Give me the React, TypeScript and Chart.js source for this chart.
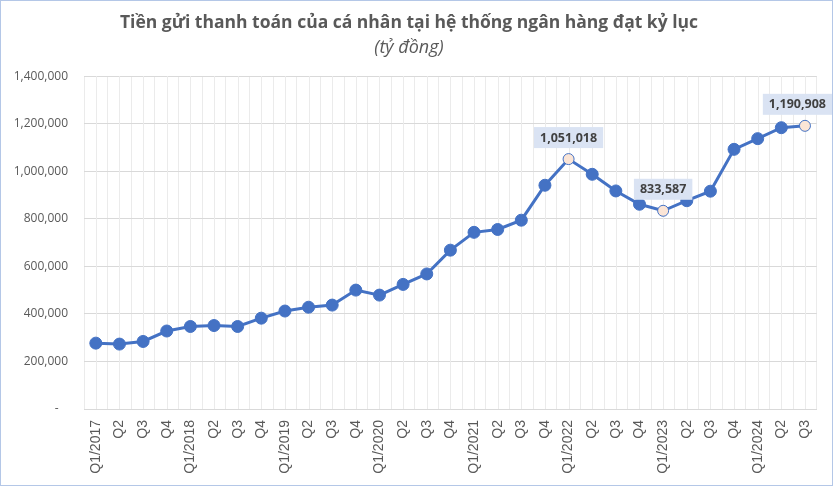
import React, { useEffect, useRef } from "react";
import { Chart, registerables } from "chart.js";

Chart.register(...registerables);

const titleText = "Tiền gửi thanh toán của cá nhân tại hệ thống ngân hàng đạt kỷ lục";
const subtitleText = "(tỷ đồng)";

const categories = [
  "Q1/2017", "Q2", "Q3", "Q4",
  "Q1/2018", "Q2", "Q3", "Q4",
  "Q1/2019", "Q2", "Q3", "Q4",
  "Q1/2020", "Q2", "Q3", "Q4",
  "Q1/2021", "Q2", "Q3", "Q4",
  "Q1/2022", "Q2", "Q3", "Q4",
  "Q1/2023", "Q2", "Q3", "Q4",
  "Q1/2024", "Q2", "Q3",
];

const deposits = [
  277000, 273000, 284000, 328000,
  347000, 351000, 347000, 382000,
  412000, 428000, 437000, 500000,
  479000, 524000, 568000, 668000,
  743000, 755000, 794000, 941000,
  1051018, 987000, 917000, 861000,
  833587, 876000, 916000, 1092000,
  1137000, 1183000, 1190908,
];

const highlightIndices = [20, 24, 30];

const yMin = 0;
const yMax = 1400000;
const yStep = 200000;

const LINE = "#4472c4";
const HILITE_FILL = "#fbe5d6";
const LABEL_BG = "#dae3f3";
const TEXT = "#595959";

export default function App() {
  const ref = useRef<HTMLCanvasElement | null>(null);

  useEffect(() => {
    document.body.style.margin = "0";
    const canvas = ref.current;
    if (!canvas) return;

    const centerGrid = {
      id: "centerGrid",
      beforeDatasetsDraw(chart: any) {
        const { ctx, chartArea, scales } = chart;
        const x = scales.x;
        ctx.save();
        ctx.strokeStyle = "#ebebeb";
        ctx.lineWidth = 1;
        for (let i = 0; i < categories.length; i++) {
          const px = Math.round(x.getPixelForTick(i)) + 0.5;
          ctx.beginPath();
          ctx.moveTo(px, chartArea.top);
          ctx.lineTo(px, chartArea.bottom);
          ctx.stroke();
        }
        ctx.restore();
      },
    };

    const valueLabels = {
      id: "valueLabels",
      afterDatasetsDraw(chart: any) {
        const { ctx } = chart;
        const meta = chart.getDatasetMeta(0);
        ctx.save();
        ctx.font = 'bold 12.5px "Open Sans"';
        ctx.textAlign = "center";
        ctx.textBaseline = "middle";
        highlightIndices.forEach((i) => {
          const pt = meta.data[i];
          const text = deposits[i].toLocaleString("en-US");
          const tw = ctx.measureText(text).width;
          const w = tw + 12;
          const h = 21;
          let left = pt.x - w / 2;
          if (left + w > chart.width - 1) left = chart.width - 1 - w;
          const top = pt.y - 11 - h;
          ctx.fillStyle = LABEL_BG;
          ctx.fillRect(left, top, w, h);
          ctx.fillStyle = "#404040";
          ctx.fillText(text, left + w / 2, top + h / 2 + 0.5);
        });
        ctx.restore();
      },
    };

    const frame = {
      id: "frame",
      afterDraw(chart: any) {
        const { ctx } = chart;
        ctx.save();
        ctx.strokeStyle = "#b4c7e7";
        ctx.lineWidth = 1;
        ctx.strokeRect(0.5, 0.5, chart.width - 1, chart.height - 1);
        ctx.restore();
      },
    };

    const chart = new Chart(canvas, {
      type: "line",
      data: {
        labels: categories,
        datasets: [
          {
            data: deposits,
            borderColor: LINE,
            borderWidth: 3,
            backgroundColor: LINE,
            pointRadius: deposits.map((_, i) => (highlightIndices.includes(i) ? 5.5 : 6)),
            pointBackgroundColor: deposits.map((_, i) =>
              highlightIndices.includes(i) ? HILITE_FILL : LINE
            ),
            pointBorderColor: LINE,
            pointBorderWidth: 1,
            tension: 0,
          },
        ],
      },
      options: {
        responsive: false,
        animation: false,
        layout: { padding: { left: 0, right: 15, top: 0, bottom: 0 } },
        plugins: {
          legend: { display: false },
          tooltip: { enabled: false },
          title: {
            display: true,
            text: titleText,
            color: TEXT,
            font: { family: '"Open Sans"', size: 17.5, weight: "bold", lineHeight: 1.2 },
            padding: { top: 13, bottom: 2 },
          },
          subtitle: {
            display: true,
            text: subtitleText,
            color: TEXT,
            font: { family: '"Open Sans"', size: 18, style: "italic", lineHeight: 1.2 },
            padding: { top: 1, bottom: 17.5 },
          },
        },
        scales: {
          x: {
            type: "category",
            offset: true,
            grid: { offset: true, color: "#ebebeb", drawTicks: false },
            border: { display: true, color: "#d9d9d9" },
            ticks: {
              autoSkip: false,
              minRotation: 90,
              maxRotation: 90,
              padding: 11,
              color: TEXT,
              font: { family: '"Liberation Sans"', size: 14 },
            },
            afterFit: (s: any) => {
              s.height = 486 - 409;
            },
          },
          y: {
            min: yMin,
            max: yMax,
            ticks: {
              stepSize: yStep,
              padding: 16,
              color: TEXT,
              font: { family: '"Open Sans"', size: 12 },
              callback: (v: any) => (Number(v) === 0 ? "-   " : Number(v).toLocaleString("en-US")),
            },
            grid: { color: "#d9d9d9", drawTicks: false },
            border: { display: false },
            afterFit: (s: any) => {
              s.width = 84;
            },
          },
        },
      },
      plugins: [centerGrid, valueLabels, frame],
    });

    return () => chart.destroy();
  }, []);

  return (
    <div style={{ position: "fixed", left: 0, top: 0, width: 833, height: 486, background: "#fff" }}>
      <canvas ref={ref} width={833} height={486} />
    </div>
  );
}
